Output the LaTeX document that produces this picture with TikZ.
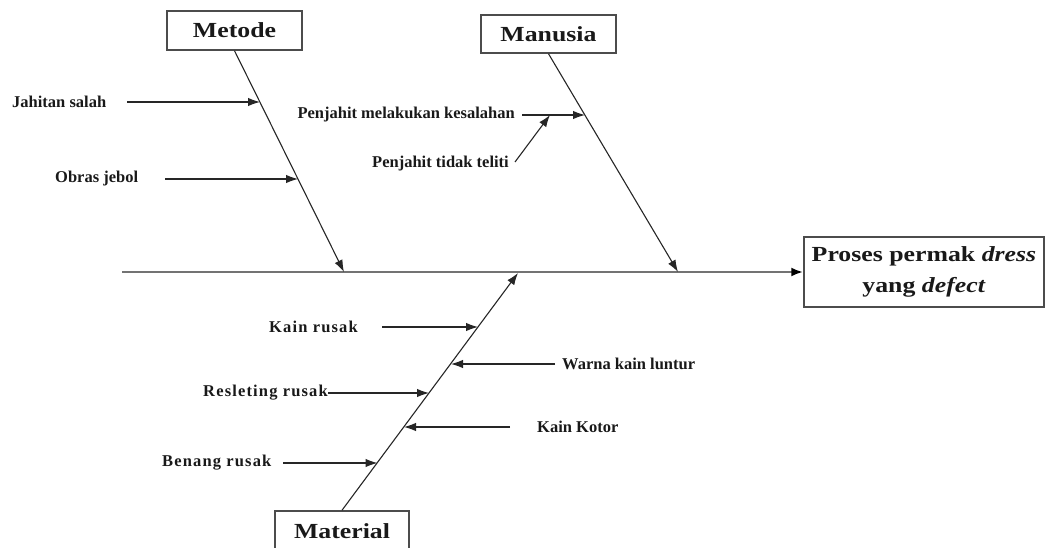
\documentclass[tikz,border=0pt]{standalone}
\usepackage{fontspec}
\setmainfont{Liberation Serif}
\newfontfamily\headfont[FakeStretch=1.2]{Liberation Serif}
\newfontfamily\spacedfont[LetterSpace=7]{Liberation Serif}
\usetikzlibrary{arrows.meta,calc}
\begin{document}
\begin{tikzpicture}[x=1pt,y=-1pt,
 lbl/.style={font=\bfseries\fontsize{16.5}{20}\selectfont, inner sep=0pt, text=black!90},
 slbl/.style={font=\spacedfont\bfseries\fontsize{16.5}{20}\selectfont, inner sep=0pt, text=black!90},
 head/.style={draw=black!70, line width=1.5pt, font=\headfont\bfseries\fontsize{21.5}{31}\selectfont, inner sep=0pt, align=center, text=black!90},
 arr/.style={line width=1.1pt, black!85, -{Latex[length=12pt,width=8.5pt]}},
 spine/.style={line width=2.4pt, black!55, -{Latex[length=12pt,width=9pt,color=black]}}]
\useasboundingbox (0,0) rectangle (1046,548);
\clip (0,0) rectangle (1046,548);
% heads
\node[head, minimum width=135, minimum height=39] (metode) at (234.5,30.5) {Metode};
\node[head, minimum width=135, minimum height=38] (manusia) at (548.5,34) {Manusia};
\node[head, minimum width=134, minimum height=41] (material) at (342,531.5) {Material};
\node[head, minimum width=240, minimum height=70] (result) at (924,272) {Proses permak \textit{dress}\\yang \textit{defect}};
% spine
\coordinate (spS) at (122,272);
\draw[spine] (spS) -- (result.west);
% bones
\coordinate (metE) at (344,272);
\coordinate (manE) at (678,272);
\coordinate (matE) at (518,273);
\draw[arr] (metode.south) -- (metE);
\draw[arr] (manusia.south) -- (manE);
\draw[arr] (material.north) -- (matE);
% Metode causes
\node[lbl, anchor=west] (jahit) at (12,102) {Jahitan salah};
\coordinate (jahitS) at (127,102);
\coordinate (jahitT) at (260,102);
\draw[arr] (jahitS) -- (jahitT);
\node[lbl, anchor=west] (obras) at (55,179) {Obras jebol};
\coordinate (obrasS) at (165,179);
\coordinate (obrasT) at (298,179);
\draw[arr] (obrasS) -- (obrasT);
% Manusia causes
\node[lbl, anchor=east] (pmk) at (515,115) {Penjahit melakukan kesalahan};
\coordinate (pmkS) at (522,115);
\coordinate (pmkM) at (550,115);
\coordinate (pmkT) at (585,115);
\draw[arr] (pmkS) -- (pmkT);
\node[lbl, anchor=east] (ptt) at (509,164) {Penjahit tidak teliti};
\coordinate (pttS) at (515,162);
\draw[arr] (pttS) -- (pmkM);
% Material causes
\node[slbl, anchor=west] (kr) at (269,327) {Kain rusak};
\coordinate (krS) at (382,327);
\coordinate (krT) at (478,327);
\draw[arr] (krS) -- (krT);
\node[lbl, anchor=west] (wkl) at (562,364) {Warna kain luntur};
\coordinate (wklS) at (555,364);
\coordinate (wklT) at (451,364);
\draw[arr] (wklS) -- (wklT);
\node[slbl, anchor=east] (rr) at (328,393) {Resleting rusak};
\coordinate (rrT) at (429,393);
\draw[arr] (rr.east) -- (rrT);
\node[lbl, anchor=west] (kk) at (537,427) {Kain Kotor};
\coordinate (kkS) at (510,427);
\coordinate (kkT) at (404,427);
\draw[arr] (kkS) -- (kkT);
\node[slbl, anchor=west] (br) at (162,463) {Benang rusak};
\coordinate (brS) at (283,463);
\coordinate (brT) at (377.5,463);
\draw[arr] (brS) -- (brT);
\end{tikzpicture}
\end{document}
